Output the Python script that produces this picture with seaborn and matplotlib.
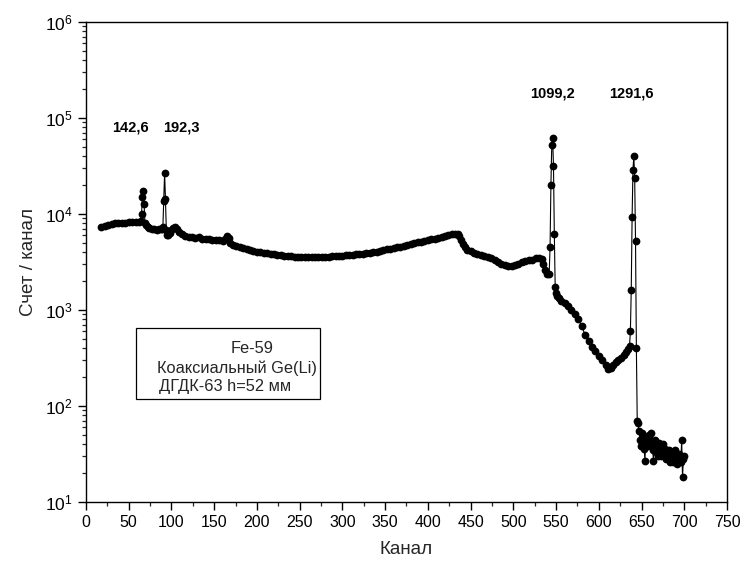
import matplotlib
matplotlib.use("Agg")
import matplotlib.pyplot as plt
import seaborn as sns
import pandas as pd
from matplotlib.ticker import MultipleLocator, LogLocator
from matplotlib.patches import Rectangle

# ---- data (channel, counts per channel) ----
channels = [
    18, 22, 26, 30, 34, 38, 42, 46, 50, 54, 58, 62,
    64, 65, 66, 67, 68, 69, 70,
    72, 74, 77, 80, 83, 86, 88, 89, 90,
    91, 92, 93, 94, 95, 96,
    98, 100, 102, 104, 106, 109, 112, 116, 120, 124, 128, 132, 136, 140,
    144, 148, 152, 156, 160, 163, 165, 167, 169, 172, 176, 180, 184, 188,
    192, 196, 200, 204, 208, 212, 216, 220, 224, 228, 232, 236, 240, 244,
    248, 252, 256, 260, 264, 268, 272, 276, 280, 284, 288, 292, 296, 300,
    304, 308, 312, 316, 320, 324, 328, 332, 336, 340, 344, 348, 352, 356,
    360, 364, 368, 372, 376, 380, 384, 388, 392, 396, 400, 404, 408, 412,
    416, 420, 424, 428, 432, 435, 437, 439, 441, 443, 446, 450, 454, 458,
    462, 466, 470, 474, 478, 482, 486, 490, 494, 498, 502, 506, 510, 514,
    518, 522, 526, 530, 533, 535, 537, 539, 542,
    543, 544, 545, 546, 547, 548, 549, 550, 551,
    553, 556, 560, 564, 568, 572, 576, 580, 584, 588, 592, 596, 600, 604,
    608, 611, 614, 617, 620, 623, 626, 629, 632, 634, 636,
    637, 638, 639, 640, 641, 642, 643, 644, 645,
    646, 647, 648, 649, 650, 651, 652, 653, 654, 655, 656, 657, 658, 659,
    660, 661, 662, 663, 664, 665, 666, 667, 668, 669, 670, 671, 672, 673,
    674, 675, 676, 677, 678, 679, 680, 681, 682, 683, 684, 685, 686, 687,
    688, 689, 690, 691, 692, 693, 694, 695, 696, 697, 698, 699, 700,
]
counts = [
    7300, 7450, 7600, 7800, 8000, 8100, 8000, 8150, 8200, 8300, 8350, 8300,
    8400, 10000, 14900, 17500, 12700, 8100, 7600,
    7300, 7200, 7000, 6900, 6800, 6900, 6950, 7000, 7400,
    13800, 26700, 14300, 6800, 6100, 6000,
    6300, 6800, 7200, 7300, 7000, 6500, 6200, 5900, 5750, 5700, 5600, 5700, 5550, 5450,
    5500, 5400, 5350, 5300, 5250, 5500, 5900, 5600, 5000, 4800, 4600, 4500, 4400, 4300,
    4200, 4100, 4050, 4000, 3950, 3900, 3850, 3800, 3750, 3700, 3680, 3650, 3620, 3600,
    3580, 3570, 3560, 3550, 3560, 3540, 3560, 3580, 3600, 3590, 3620, 3640, 3650, 3680,
    3700, 3720, 3750, 3800, 3830, 3870, 3900, 3950, 4000, 4060, 4120, 4200, 4280, 4350,
    4420, 4500, 4580, 4650, 4750, 4850, 4950, 5050, 5150, 5250, 5350, 5450, 5550, 5650,
    5800, 5950, 6050, 6150, 6200, 6150, 5900, 5400, 4900, 4500, 4250, 4100, 3950, 3850,
    3750, 3650, 3550, 3450, 3300, 3150, 3050, 2950, 2900, 2900, 2950, 3050, 3150, 3250,
    3300, 3350, 3450, 3500, 3400, 3000, 2600, 2400, 2400,
    4500, 20000, 52300, 61900, 31800, 6190, 1730, 1500, 1400,
    1330, 1250, 1180, 1110, 1000, 900, 805, 680, 550, 470, 410, 370, 330, 305,
    270, 245, 250, 270, 290, 300, 320, 340, 362, 390, 425,
    600, 1625, 9250, 28900, 39800, 23900, 5270, 400, 70,
    66, 55, 44, 38, 52, 42, 50, 36, 27, 45, 40, 48, 38, 50,
    44, 52, 40, 35, 27, 38, 44, 33, 38, 30, 36, 41, 34, 30,
    37, 40, 33, 30, 36, 28, 33, 29, 35, 26, 31, 28, 33, 26,
    30, 35, 27, 31, 25, 29, 32, 28, 26, 44, 18, 28, 30,
]

peak_labels = ["142,6", "192,3", "1099,2", "1291,6"]
peak_label_x = [52, 112, 546, 638]
peak_label_y = [80000, 80000, 180000, 180000]

legend_lines = ["Fe-59", "Коаксиальный Ge(Li)", "ДГДК-63 h=52 мм"]
legend_x = [0.259, 0.236, 0.217]
legend_y = [0.319, 0.279, 0.240]

x_ticks = list(range(0, 751, 50))

df = pd.DataFrame({"channel": channels, "counts": counts})

sns.set_style("ticks")
plt.rcParams["font.family"] = ["Liberation Sans", "DejaVu Sans"]
plt.rcParams["mathtext.fontset"] = "custom"
plt.rcParams["mathtext.rm"] = "Liberation Sans"
plt.rcParams["mathtext.it"] = "Liberation Sans:italic"
plt.rcParams["mathtext.bf"] = "Liberation Sans:bold"

fig = plt.figure(figsize=(7.45, 5.70), dpi=100)
ax = fig.add_axes([0.1154, 0.1193, 0.8604, 0.8421])

sns.lineplot(data=df, x="channel", y="counts", ax=ax, color="black",
             linewidth=0.8, marker="o", markersize=5.6, markeredgewidth=0,
             markerfacecolor="black", sort=False, legend=False)

ax.set_yscale("log")
ax.set_xlim(0, 750)
ax.set_ylim(10, 1e6)
ax.set_xticks(x_ticks)
ax.xaxis.set_minor_locator(MultipleLocator(25))
ax.yaxis.set_major_locator(LogLocator(base=10, numticks=10))
ax.yaxis.set_minor_locator(LogLocator(base=10, subs=range(2, 10), numticks=20))

ax.tick_params(axis="both", which="major", direction="out", length=6, width=1,
               labelsize=11.5, colors="black", top=False, right=False)
ax.tick_params(axis="both", which="minor", direction="out", length=3, width=0.9,
               top=False, right=False)
ax.tick_params(axis="y", which="major", labelsize=12.5)
for s in ax.spines.values():
    s.set_visible(True)
    s.set_linewidth(1.0)
    s.set_color("black")

ax.set_xlabel("Канал", fontsize=13.5, labelpad=8)
ax.set_ylabel("Счет / канал", fontsize=13.5, labelpad=6)

for lab, lx, ly in zip(peak_labels, peak_label_x, peak_label_y):
    ax.text(lx, ly, lab, ha="center", va="center", fontsize=10.5,
            fontweight="bold", color="black")

# text box
box = Rectangle((0.0785, 0.2155), 0.287, 0.148, transform=ax.transAxes,
                fill=False, edgecolor="black", linewidth=0.9)
ax.add_patch(box)
for line, lx, ly in zip(legend_lines, legend_x, legend_y):
    ax.text(lx, ly, line, transform=ax.transAxes, ha="center",
            va="center", fontsize=11.8)

fig.savefig("out.png", dpi=100)
